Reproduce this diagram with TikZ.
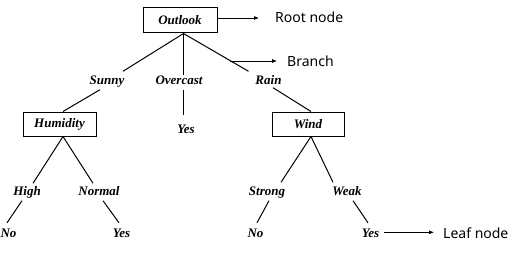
\documentclass[tikz,border=0pt]{standalone}
\usepackage{fontspec}
\setmainfont{Liberation Serif}
\newfontfamily\annotfont{Noto Sans}
\usetikzlibrary{arrows.meta,calc}
\begin{document}
\begin{tikzpicture}[x=1pt,y=-1pt,
  attr/.style={draw,line width=1pt,minimum width=73pt,minimum height=24pt,inner sep=0pt,
    font=\fontsize{13}{13}\selectfont\bfseries\itshape},
  lbl/.style={anchor=base,inner xsep=1pt,inner ysep=2.5pt,text height=9pt,text depth=3pt,
    font=\fontsize{13}{13}\selectfont\bfseries\itshape},
  edge/.style={line width=1pt},
  note/.style={anchor=base west,inner sep=0pt,font=\annotfont\fontsize{14}{14}\selectfont},
  pointer/.style={line width=0.75pt,-{Latex[length=5pt,width=4pt]}}
]
\useasboundingbox (0,0) rectangle (510,254);
% attribute boxes
\node[attr,minimum width=74pt,minimum height=25pt] (outlook) at (180,20.5) {Outlook};
\node[attr] (humidity) at (59.5,124) {Humidity};
\node[attr,minimum width=72pt] (wind) at (308,124) {Wind};
\coordinate (oj) at ([xshift=3.5pt]outlook.south);
\coordinate (hu) at ([xshift=3.5pt]humidity.north);
\coordinate (hd) at ([xshift=3.5pt]humidity.south);
\coordinate (wu) at ([xshift=3pt]wind.north);
\coordinate (wd) at ([xshift=3pt]wind.south);
% branch labels and leaves
\node[lbl] (sunny) at (107,84) {Sunny};
\node[lbl] (overcast) at (179,84) {Overcast};
\node[lbl] (rain) at (268.5,84) {Rain};
\node[lbl] (yesA) at (186,133) {Yes};
\node[lbl] (high) at (27,195) {High};
\node[lbl] (normal) at (99,195) {Normal};
\node[lbl] (strong) at (267,195) {Strong};
\node[lbl] (weak) at (347,195) {Weak};
\node[lbl] (noA) at (8.5,237) {No};
\node[lbl] (yesB) at (121.5,237) {Yes};
\node[lbl] (noB) at (255.5,237) {No};
\node[lbl] (yesC) at (370.5,237) {Yes};
% edges
\draw[edge] (oj) -- ([xshift=16pt,yshift=1pt]sunny.north);
\draw[edge] ([xshift=-7pt]sunny.south) -- (hu);
\draw[edge] (oj) -- ([yshift=-3pt]oj |- overcast.north);
\draw[edge] (oj |- overcast.south) -- ([yshift=6pt]oj |- yesA.north);
\draw[edge] (oj) -- ([xshift=-20pt,yshift=1pt]rain.north);
\draw[edge] ([xshift=4.5pt,yshift=2pt]rain.south) -- (wu);
\draw[edge] (hd) -- ([xshift=6pt]high.north);
\draw[edge] ([xshift=-5pt]high.south) -- ([xshift=-1.5pt,yshift=2.5pt]noA.north);
\draw[edge] (hd) -- ([xshift=-6pt]normal.north);
\draw[edge] ([xshift=4pt]normal.south) -- ([xshift=-2.5pt,yshift=2.5pt]yesB.north);
\draw[edge] (wd) -- ([xshift=14pt,yshift=1pt]strong.north);
\draw[edge] ([xshift=2pt]strong.south) -- ([xshift=1.5pt,yshift=2.5pt]noB.north);
\draw[edge] (wd) -- ([xshift=-14pt,yshift=1pt]weak.north);
\draw[edge] ([xshift=6pt]weak.south) -- ([xshift=-2.5pt,yshift=2.5pt]yesC.north);
% annotations
\node[note] (rootnote) at (275,22.5) {Root node};
\node[note] (branchnote) at (287,66.5) {Branch};
\node[note] (leafnote) at (443,238) {Leaf node};
\coordinate (br) at (230,61);
\draw[pointer,shorten >=16pt] ([yshift=2.5pt]outlook.east) -- ([yshift=2.5pt]outlook.east -| rootnote.west);
\draw[pointer,shorten >=10pt] (br) -- (br -| branchnote.west);
\draw[pointer,shorten >=13pt] ([xshift=4pt,yshift=1.7pt]yesC.east) -- ([xshift=4pt,yshift=1.7pt]yesC.east -| leafnote.west);
\end{tikzpicture}
\end{document}
